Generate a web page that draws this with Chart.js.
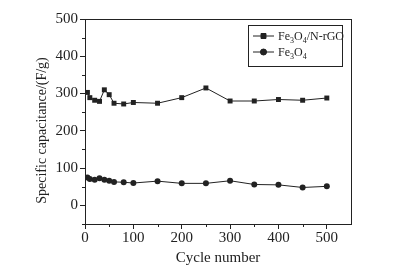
<!DOCTYPE html>
<html>
<head>
<meta charset="utf-8">
<script src="https://cdn.jsdelivr.net/npm/chart.js@4"></script>
<style>
  html, body { margin: 0; padding: 0; background: #fff; }
  #wrap { width: 409px; height: 267px; }
</style>
</head>
<body>
<div id="wrap"><canvas id="capChart"></canvas></div>
<script>
// Cycle numbers (x values)
const cycles = [5, 10, 20, 30, 40, 50, 60, 80, 100, 150, 200, 250, 300, 350, 400, 450, 500];
// Specific capacitance (F/g)
const compositeCap = [303, 289, 282, 279, 310, 297, 274, 272, 276, 274, 289, 315, 280, 280, 284, 282, 288];
const bareCap = [75, 71, 69, 73, 69, 66, 63, 62, 60, 65, 59, 59, 66, 56, 55, 48, 51];
// Axis ticks
const xTicks = [0, 100, 200, 300, 400, 500];
const yTicks = [0, 100, 200, 300, 400, 500];
const xMinor = [50, 150, 250, 350, 450];
const yMinor = [-50, 50, 150, 250, 350, 450];
// Legend entries: [base, sub, base, sub, rest]
const legendLabels = [
    ['Fe', '3', 'O', '4', '/N-rGO'],
    ['Fe', '3', 'O', '4', '']
];
const legendMarkers = ['rect', 'circle'];
const yTitle = 'Specific capacitance/(F/g)';

const FONT = '"Liberation Serif", "Times New Roman", serif';
const INK = '#222';

function toPoints(ys) {
    return cycles.map((c, i) => ({ x: c, y: ys[i] }));
}

// Frame, minor ticks, y title and a legend with subscripts
const framePlugin = {
    id: 'frame',
    afterDraw(chart) {
        const { ctx, chartArea: a, scales } = chart;
        ctx.save();
        ctx.strokeStyle = INK;
        ctx.lineWidth = 1;
        ctx.strokeRect(a.left + 0.5, a.top + 0.5, a.right - a.left, a.bottom - a.top);

        // minor ticks
        ctx.beginPath();
        xMinor.forEach(v => {
            const px = Math.round(scales.x.getPixelForValue(v)) + 0.5;
            ctx.moveTo(px, a.bottom);
            ctx.lineTo(px, a.bottom + 3);
        });
        yMinor.forEach(v => {
            const py = Math.round(scales.y.getPixelForValue(v)) + 0.5;
            ctx.moveTo(a.left, py);
            ctx.lineTo(a.left - 3, py);
        });
        ctx.stroke();

        // y axis title, a bit below the middle as in the original
        ctx.save();
        ctx.translate(42, (a.top + a.bottom) / 2 + 9);
        ctx.rotate(-Math.PI / 2);
        ctx.fillStyle = INK;
        ctx.font = '14px ' + FONT;
        ctx.textAlign = 'center';
        ctx.textBaseline = 'middle';
        ctx.fillText(yTitle, 0, 0);
        ctx.restore();

        // legend box
        const bx = a.right - 103, by = a.top + 6, bw = 94, bh = 41;
        ctx.fillStyle = '#fff';
        ctx.fillRect(bx, by, bw, bh);
        ctx.strokeRect(bx + 0.5, by + 0.5, bw, bh);

        legendLabels.forEach((parts, i) => {
            const ly = by + 11 + i * 16;
            ctx.beginPath();
            ctx.moveTo(bx + 5, ly);
            ctx.lineTo(bx + 26, ly);
            ctx.stroke();
            ctx.fillStyle = INK;
            Chart.helpers.drawPoint(ctx, {
                pointStyle: legendMarkers[i], radius: legendMarkers[i] === 'rect' ? 3.5 : 3,
                borderWidth: 1
            }, bx + 15.5, ly);
            ctx.fill();

            let tx = bx + 30;
            ctx.textBaseline = 'alphabetic';
            ctx.textAlign = 'left';
            parts.forEach((p, k) => {
                if (!p) return;
                const isSub = k === 1 || k === 3;
                ctx.font = (isSub ? '8px ' : '12px ') + FONT;
                ctx.fillText(p, tx, ly + 4 + (isSub ? 3 : 0));
                tx += ctx.measureText(p).width;
            });
        });
        ctx.restore();
    }
};

const ctx = document.getElementById('capChart').getContext('2d');
new Chart(ctx, {
    type: 'line',
    data: {
        datasets: [
            {
                label: 'Fe3O4/N-rGO',
                data: toPoints(compositeCap),
                borderColor: INK,
                backgroundColor: INK,
                borderWidth: 1,
                pointStyle: 'rect',
                pointRadius: 3.5,
                pointBorderWidth: 0
            },
            {
                label: 'Fe3O4',
                data: toPoints(bareCap),
                borderColor: INK,
                backgroundColor: INK,
                borderWidth: 1,
                pointStyle: 'circle',
                pointRadius: 3,
                pointBorderWidth: 0
            }
        ]
    },
    options: {
        responsive: true,
        maintainAspectRatio: false,
        animation: false,
        layout: { padding: { left: 0, right: 58, top: 19, bottom: 0 } },
        plugins: { legend: { display: false }, tooltip: { enabled: false } },
        scales: {
            x: {
                type: 'linear',
                min: 0,
                max: 550,
                afterBuildTicks: s => { s.ticks = xTicks.map(v => ({ value: v })); },
                afterFit: s => { s.height = 43; },
                grid: { display: true, drawOnChartArea: false, drawTicks: true, tickLength: 5, color: INK },
                border: { display: true, color: INK },
                ticks: { color: INK, font: { family: FONT, size: 15 }, padding: 0, maxRotation: 0 },
                title: {
                    display: true,
                    text: 'Cycle number',
                    color: INK,
                    font: { family: FONT, size: 15 },
                    padding: { top: -4, bottom: 0 }
                }
            },
            y: {
                type: 'linear',
                min: -50,
                max: 500,
                afterBuildTicks: s => { s.ticks = yTicks.map(v => ({ value: v })); },
                afterFit: s => { s.width = 85; },
                grid: { display: true, drawOnChartArea: false, drawTicks: true, tickLength: 5, color: INK },
                border: { display: true, color: INK },
                ticks: { color: INK, font: { family: FONT, size: 15 }, padding: 2 },
                title: { display: false }
            }
        }
    },
    plugins: [framePlugin]
});
</script>
</body>
</html>
